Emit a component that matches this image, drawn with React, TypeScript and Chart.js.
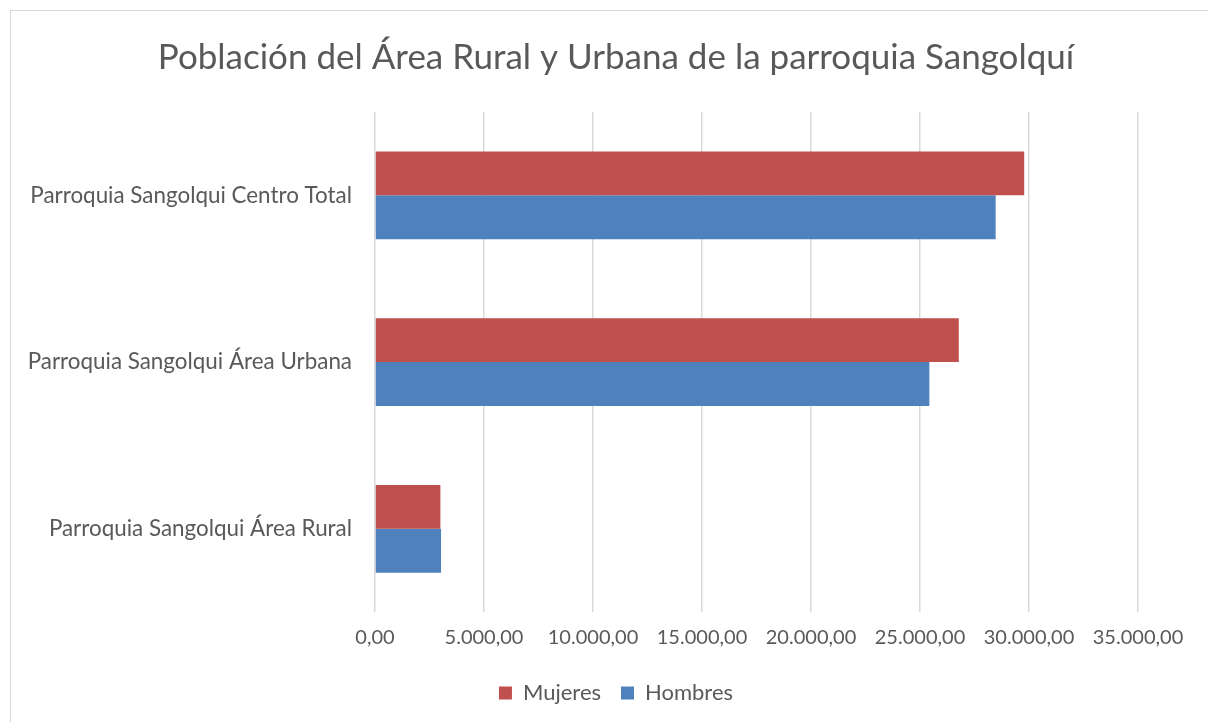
import React, { useEffect, useRef } from "react";
import { Chart, registerables } from "chart.js";

Chart.register(...registerables);

const categories = [
  "Parroquia Sangolqui Centro Total",
  "Parroquia Sangolqui Área Urbana",
  "Parroquia Sangolqui Área Rural",
];
const mujeres = [29780, 26780, 3000];
const hombres = [28470, 25430, 3030];
const xMin = 0;
const xMax = 35000;
const xStep = 5000;

const TEXT = "#595959";
const FONT = "Lato";

function fmt(v: number): string {
  const parts = Math.abs(v).toFixed(2).split(".");
  const int = parts[0].replace(/\B(?=(\d{3})+(?!\d))/g, ".");
  return (v < 0 ? "-" : "") + int + "," + parts[1];
}

export default function App() {
  const ref = useRef<HTMLCanvasElement | null>(null);
  useEffect(() => {
    if (!ref.current) return;
    const chart = new Chart(ref.current, {
      type: "bar",
      data: {
        labels: categories,
        datasets: [
          {
            label: "Mujeres",
            data: mujeres,
            backgroundColor: "#C0504D",
            categoryPercentage: 0.526,
            barPercentage: 1,
          },
          {
            label: "Hombres",
            data: hombres,
            backgroundColor: "#4F81BD",
            categoryPercentage: 0.526,
            barPercentage: 1,
          },
        ],
      },
      options: {
        indexAxis: "y",
        responsive: false,
        animation: false,
        layout: { padding: { left: 24, right: 0, top: 0, bottom: 8 } },
        plugins: {
          title: {
            display: true,
            text: "Población del Área Rural y Urbana de la parroquia Sangolquí",
            color: TEXT,
            font: { family: FONT, size: 35, weight: "normal", lineHeight: 1.2 },
            padding: { top: 37, bottom: 33 },
          },
          legend: {
            position: "bottom",
            labels: {
              color: TEXT,
              font: { family: FONT, size: 22, lineHeight: 1.2 },
              boxWidth: 13,
              boxHeight: 13,
              padding: 20,
            },
          },
          tooltip: { enabled: false },
        },
        scales: {
          x: {
            min: xMin,
            max: xMax,
            ticks: {
              stepSize: xStep,
              color: TEXT,
              font: { family: FONT, size: 20, lineHeight: 1.2 },
              padding: 13,
              callback: (v: any) => fmt(Number(v)),
              maxRotation: 0,
            },
            grid: { color: "#d9d9d9", lineWidth: 1.5, drawTicks: false },
            border: { display: false },
            afterFit: (s: any) => {
              s.height = 49.8;
            },
          },
          y: {
            ticks: {
              color: TEXT,
              font: { family: FONT, size: 22.4, lineHeight: 1.2 },
              padding: 23,
            },
            grid: { display: false, drawTicks: false },
            border: { display: false },
            afterFit: (s: any) => {
              s.width = 351;
            },
          },
          spacer: {
            type: "linear",
            position: "right",
            display: true,
            ticks: { display: false },
            grid: { display: false, drawTicks: false },
            border: { display: false },
            afterFit: (s: any) => {
              s.width = 70;
            },
          },
        },
      },
    });
    return () => chart.destroy();
  }, []);

  return (
    <div
      style={{
        position: "fixed",
        left: 0,
        top: 0,
        width: 1208,
        height: 722,
        background: "#ffffff",
        overflow: "hidden",
      }}
    >
      <div
        style={{
          position: "absolute",
          left: 10,
          top: 10,
          width: 1198,
          height: 712,
          borderTop: "1px solid #d9d9d9",
          borderLeft: "1px solid #d9d9d9",
          boxSizing: "border-box",
        }}
      />
      <canvas
        ref={ref}
        width={1208}
        height={722}
        style={{ position: "absolute", left: 0, top: 0, width: 1208, height: 722 }}
      />
    </div>
  );
}
